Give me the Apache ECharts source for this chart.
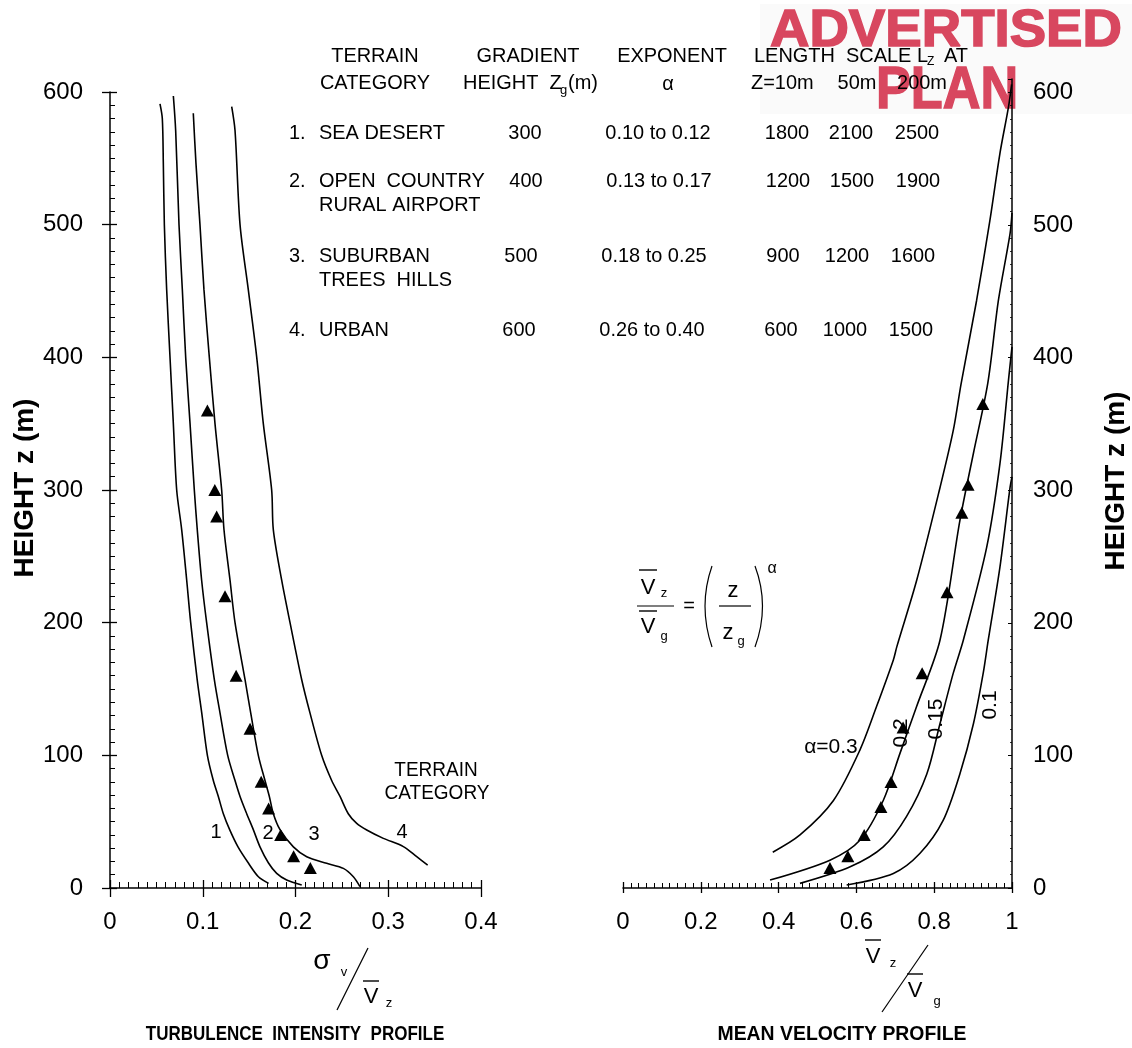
<!DOCTYPE html>
<html><head><meta charset="utf-8">
<script src="https://cdn.jsdelivr.net/npm/echarts@6/dist/echarts.min.js"></script>
<style>html,body{margin:0;padding:0;background:#fff}#chart{width:1132px;height:1048px}</style>
</head><body><div id="chart"></div>
<script>
// ---------------- DATA ----------------
// Turbulence intensity profiles [sigma_v / V_z, height z (m)]
const turbCat1 = [[0.0539,591],[0.0564,580],[0.0575,546],[0.0586,500],[0.0611,451],[0.0647,400],[0.0683,350],[0.0719,300],[0.0773,270],[0.0827,232],[0.087,200],[0.094,157],[0.0989,132],[0.105,100],[0.1114,81],[0.1168,69],[0.1222,56],[0.129,44],[0.138,31],[0.149,19],[0.16,8.5],[0.171,3.5]];
const turbCat2 = [[0.0683,597],[0.0708,571],[0.0744,500],[0.078,451],[0.0816,400],[0.0863,350],[0.0909,300],[0.0941,270],[0.0988,232],[0.1042,200],[0.1125,157],[0.1186,132],[0.1269,100],[0.1348,81],[0.1402,69],[0.1474,56],[0.1545,44],[0.1617,31],[0.1707,19],[0.1797,11],[0.1905,6],[0.2067,2.2]];
const turbCat3 = [[0.0898,584],[0.0927,546],[0.097,500],[0.1013,451],[0.1071,400],[0.1132,350],[0.1204,300],[0.1229,270],[0.1294,232],[0.1348,200],[0.1456,157],[0.1517,132],[0.1599,100],[0.1671,81],[0.1718,69],[0.1761,56],[0.1833,44],[0.1977,31],[0.2121,23.6],[0.2336,18.6],[0.2516,14.8],[0.2624,8.5],[0.2695,1]];
const turbCat4 = [[0.1312,589],[0.1348,571],[0.1402,500],[0.1491,451],[0.1582,400],[0.1653,350],[0.1743,300],[0.1761,270],[0.1851,232],[0.1941,200],[0.2067,157],[0.2156,132],[0.2282,100],[0.239,81],[0.248,69],[0.2569,56],[0.266,48.7],[0.2768,43.7],[0.2947,37.4],[0.3163,31.2],[0.3307,23.6],[0.3425,17.3]];
const turbMeasured = [[0.105,360],[0.113,300],[0.115,280],[0.124,220],[0.136,160],[0.151,120],[0.163,80],[0.171,60],[0.184,40],[0.198,24],[0.216,15]];

// Mean velocity profiles [V_z / V_g, height z (m)]
const velAlpha030 = [[0.385,27],[0.455,40],[0.541,66],[0.609,104],[0.652,137],[0.695,172],[0.704,182],[0.755,232],[0.815,302],[0.849,345],[0.869,380],[0.909,443],[0.943,503],[0.969,554],[0.991,589],[0.999,606]];
const velAlpha020 = [[0.378,6],[0.532,21],[0.609,36],[0.669,66],[0.712,101.5],[0.755,137],[0.815,187],[0.866,277],[0.901,328],[0.938,381],[0.965,443],[0.995,493.5],[1.0,509]];
const velAlpha015 = [[0.455,3.5],[0.584,16],[0.669,31],[0.729,54],[0.781,86],[0.815,124],[0.849,162],[0.875,187],[0.935,257],[0.969,320],[0.991,383],[1.0,408]];
const velAlpha010 = [[0.575,2.3],[0.695,11],[0.763,26],[0.823,51],[0.866,86],[0.901,124],[0.926,162],[0.939,187],[0.969,242],[0.995,302],[1.0,310]];
const velMeasured = [[0.925,365],[0.887,304],[0.871,283],[0.833,223],[0.769,162],[0.72,121],[0.689,80],[0.663,61],[0.62,40],[0.578,24],[0.532,15]];

// Table
const terrainNames = [['SEA DESERT'],['OPEN  COUNTRY','RURAL AIRPORT'],['SUBURBAN','TREES  HILLS'],['URBAN']];
const gradientHeights = [300,400,500,600];
const exponentRanges = ['0.10 to 0.12','0.13 to 0.17','0.18 to 0.25','0.26 to 0.40'];
const lengthScales = [[1800,2100,2500],[1200,1500,1900],[900,1200,1600],[600,1000,1500]];
const curveLabelsTurb = ['1','2','3','4'];
const curveLabelsVel = ['\u03b1=0.3','0.2','0.15','0.1'];

// ---------------- LAYOUT ----------------
const FONT = "'Liberation Sans', Arial, Helvetica, sans-serif";
function txt(text, x, y, size, o) {
  o = o || {};
  const align = o.align || 'center';
  const style = { text:text, fill:o.color||'#000', font:(o.bold?'bold ':'')+size+'px '+FONT,
      textAlign:align, align:align, textVerticalAlign:'middle', verticalAlign:'middle' };
  if (o.stroke) { style.stroke = o.stroke; style.lineWidth = o.strokeW || 1; }
  return { type:'text', x:x, y:y, rotation:o.rot||0, scaleX:o.sx||1, scaleY:o.sy||1, z:(o.z!==undefined?o.z:10), style:style };
}
function ln(x1,y1,x2,y2,w) {
  return { type:'line', z:10, shape:{x1:x1,y1:y1,x2:x2,y2:y2}, style:{stroke:'#000', lineWidth:w||1.3} };
}
function bez(x1,y1,cx,cy,x2,y2) {
  return { type:'bezierCurve', z:10, shape:{x1:x1,y1:y1,cpx1:cx,cpy1:cy,x2:x2,y2:y2}, style:{stroke:'#000', fill:null, lineWidth:1.2} };
}

const g = [];
// stamp (behind everything)
const STAMP = '#d8475f';
g.push({ type:'rect', z:-5, shape:{x:760,y:4,width:372,height:110}, style:{fill:'#fafafa'} });
g.push(txt('ADVERTISED', 770, 32, 52, {bold:true, align:'left', sx:1.05, color:STAMP, stroke:STAMP, strokeW:1.5, z:-4}));
g.push(txt('PLAN', 876, 91, 60, {bold:true, align:'left', sx:0.87, color:STAMP, stroke:STAMP, strokeW:1.5, z:-4}));

// table header
const TS = 21;
const TSX = 0.95;
function tt(text, x, y, align) { return txt(text, x, y, TS, {align:align||'center', sx:TSX}); }
g.push(tt('TERRAIN', 375, 56));
g.push(tt('CATEGORY', 375, 83));
g.push(tt('GRADIENT', 528, 56));
g.push(tt('HEIGHT  Z', 463, 83, 'left'));
g.push(txt('g', 560, 90, 13, {align:'left'}));
g.push(tt('(m)', 568, 83, 'left'));
g.push(tt('EXPONENT', 672, 56));
g.push(tt('\u03b1', 668, 84));
g.push(tt('LENGTH  SCALE L', 754, 56, 'left'));
g.push(txt('Z', 927, 62, 12, {align:'left'}));
g.push(tt('AT', 944, 56, 'left'));
g.push(tt('Z=10m', 751, 83, 'left'));
g.push(tt('50m', 857, 83));
g.push(tt('200m', 922, 83));

const rowY = [133,181,256,330];
const rowShift = [0,1,-4,-6];
const lenCols = [787,851,917];
terrainNames.forEach(function(names, i){
  g.push(tt((i+1)+'.', 289, rowY[i], 'left'));
  names.forEach(function(n, j){ g.push(tt(n, 319, rowY[i]+24*j, 'left')); });
  g.push(tt(String(gradientHeights[i]), 525+rowShift[i], rowY[i]));
  g.push(tt(exponentRanges[i], 658+rowShift[i], rowY[i]));
  lengthScales[i].forEach(function(v, k){ g.push(tt(String(v), lenCols[k]+rowShift[i], rowY[i])); });
});

// axis titles
g.push(txt('HEIGHT z (m)', 25, 488, 28, {bold:true, rot:Math.PI/2}));
g.push(txt('HEIGHT z (m)', 1116, 481, 28, {bold:true, rot:Math.PI/2}));
g.push(txt('TURBULENCE  INTENSITY  PROFILE', 295, 1034, 20, {bold:true, sx:0.85}));
g.push(txt('MEAN VELOCITY PROFILE', 842, 1034, 20, {bold:true, sx:0.97}));

// sigma_v / V_z
g.push(txt('\u03c3', 322, 961, 28));
g.push(txt('v', 344, 972, 13));
g.push(ln(337,1010,368,948,1.2));
g.push(txt('V', 371, 997, 22));
g.push(ln(363,981,379,981,1.4));
g.push(txt('z', 389, 1003, 13));
// V_z / V_g
g.push(txt('V', 873, 957, 22));
g.push(ln(865,940,881,940,1.4));
g.push(txt('z', 893, 963, 13));
g.push(ln(882,1012,928,945,1.2));
g.push(txt('V', 915, 991, 22));
g.push(ln(907,974,923,974,1.4));
g.push(txt('g', 937, 1001, 13));

// curve labels left
const turbLabelPos = [[216,832],[268,833],[314,834],[402,832]];
curveLabelsTurb.forEach(function(t,i){ g.push(txt(t, turbLabelPos[i][0], turbLabelPos[i][1], 20)); });
g.push(txt('TERRAIN', 436, 770, 20, {sx:0.95}));
g.push(txt('CATEGORY', 437, 793, 20, {sx:0.95}));
// curve labels right
g.push(txt(curveLabelsVel[0], 831, 747, 21));
g.push(txt(curveLabelsVel[1], 901, 733, 21, {rot:Math.PI/2}));
g.push(txt(curveLabelsVel[2], 936, 719, 21, {rot:Math.PI/2}));
g.push(txt(curveLabelsVel[3], 990, 705, 21, {rot:Math.PI/2}));

// formula
g.push(ln(639,570,657,570,1.4));
g.push(txt('V', 648, 588, 22));
g.push(txt('z', 664, 593, 13));
g.push(ln(637,606,674,606,1.2));
g.push(ln(639,611,657,611,1.4));
g.push(txt('V', 648, 627, 22));
g.push(txt('g', 664, 636, 13));
g.push(txt('=', 689, 606, 20));
g.push(bez(712,566,698,606,712,647));
g.push(txt('z', 733, 591, 22));
g.push(ln(719,606,751,606,1.2));
g.push(txt('z', 728, 633, 22));
g.push(txt('g', 741, 641, 13));
g.push(bez(755,566,770,606,755,647));
g.push(txt('\u03b1', 772, 569, 16));

// ---------------- CHART ----------------
const black = '#000';
const labelStyle = { color:black, fontSize:24, fontFamily:FONT };
function xMain(grid, max, interval, tickIn, minorLen, fmt) {
  return { type:'value', gridIndex:grid, min:0, max:max, interval:interval,
    axisLine:{show:true, onZero:false, lineStyle:{color:black, width:1.5}},
    axisTick:{show:true, inside:true, length:tickIn, lineStyle:{color:black, width:1.3}},
    minorTick:{show:true, splitNumber:10, length:minorLen, lineStyle:{color:black, width:1}},
    splitLine:{show:false}, minorSplitLine:{show:false},
    axisLabel:Object.assign({margin:22, formatter:fmt}, labelStyle) };
}
function xOut(grid, max, interval, len) {
  return { type:'value', gridIndex:grid, min:0, max:max, interval:interval, position:'bottom',
    axisLine:{show:false}, axisTick:{show:true, inside:false, length:len, lineStyle:{color:black, width:1.3}},
    axisLabel:{show:false}, splitLine:{show:false} };
}
const fmtNum = function(v){ return String(+v.toFixed(2)); };

const option = {
  backgroundColor:'#fff',
  animation:false,
  grid:[
    {left:110, top:92, width:371, height:796},
    {left:623, top:79, width:389, height:809}
  ],
  xAxis:[
    xMain(0, 0.4, 0.1, 8, 6, fmtNum),
    xOut(0, 0.4, 0.1, 9),
    xMain(1, 1, 0.2, 6, 5, fmtNum),
    xOut(1, 1, 0.2, 5)
  ],
  yAxis:[
    { type:'value', gridIndex:0, min:0, max:600, interval:100, position:'left',
      axisLine:{show:true, onZero:false, lineStyle:{color:black, width:1.5}},
      axisTick:{show:true, inside:true, length:7, lineStyle:{color:black, width:1.3}},
      minorTick:{show:true, splitNumber:10, length:5, lineStyle:{color:black, width:1}},
      splitLine:{show:false}, axisLabel:Object.assign({margin:27}, labelStyle) },
    { type:'value', gridIndex:0, min:0, max:600, interval:100, position:'left',
      axisLine:{show:false}, axisTick:{show:true, inside:false, length:8, lineStyle:{color:black, width:1.3}},
      axisLabel:{show:false}, splitLine:{show:false} },
    { type:'value', gridIndex:1, min:0, max:610, interval:100, position:'right',
      axisLine:{show:true, onZero:false, lineStyle:{color:black, width:1.5}},
      axisTick:{show:true, inside:true, length:4, lineStyle:{color:black, width:1}},
      minorTick:{show:true, splitNumber:10, length:2, lineStyle:{color:black, width:0.8}},
      splitLine:{show:false}, axisLabel:Object.assign({margin:21, showMaxLabel:false}, labelStyle) }
  ],
  graphic:{ elements:g },
  series:[]
};

function lineSeries(data, xi, yi) {
  return { type:'line', xAxisIndex:xi, yAxisIndex:yi, data:data, showSymbol:false, smooth:0.3,
    lineStyle:{color:black, width:1.6}, itemStyle:{color:black}, z:3, silent:true };
}
function triSeries(data, xi, yi) {
  return { type:'scatter', xAxisIndex:xi, yAxisIndex:yi, data:data, symbol:'triangle', symbolSize:[13,12],
    itemStyle:{color:black, opacity:1}, z:4, silent:true };
}
[turbCat1, turbCat2, turbCat3, turbCat4].forEach(function(d){ option.series.push(lineSeries(d, 0, 0)); });
option.series.push(triSeries(turbMeasured, 0, 0));
[velAlpha030, velAlpha020, velAlpha015, velAlpha010].forEach(function(d){ option.series.push(lineSeries(d, 2, 2)); });
option.series.push(triSeries(velMeasured, 2, 2));

const chart = echarts.init(document.getElementById('chart'), null, {renderer:'canvas'});
chart.setOption(option);
</script>
</body></html>
